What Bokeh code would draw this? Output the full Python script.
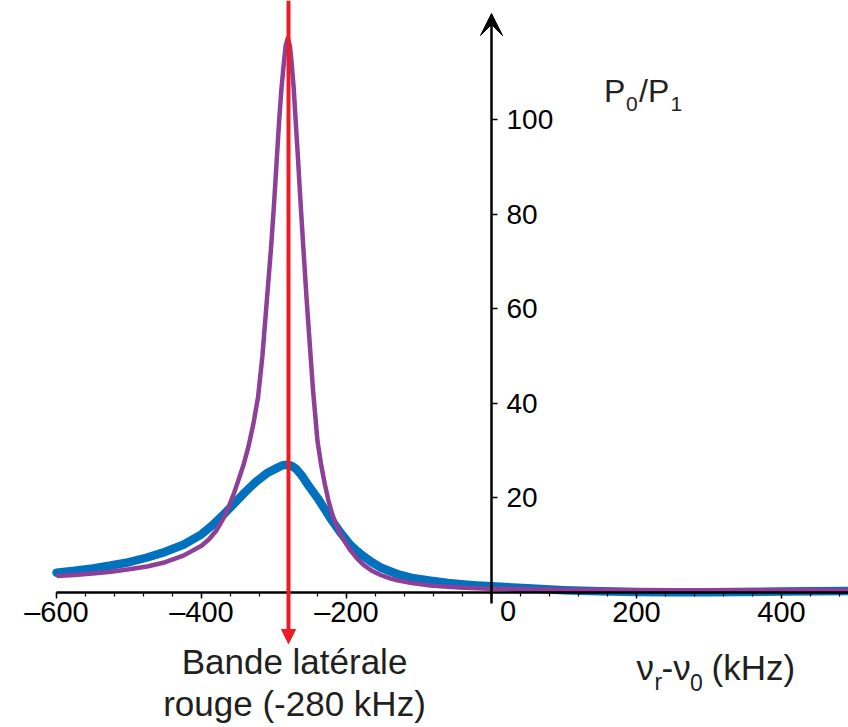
from bokeh.plotting import figure
from bokeh.models import Range1d, LinearAxis, FixedTicker, Arrow, VeeHead, NormalHead, Label
from bokeh.embed import file_html
from bokeh.resources import INLINE

# ---------------- data ----------------
detuning_blue = [-600, -575, -550, -525, -500, -475, -450, -425, -400, -385, -370, -355,
                 -340, -325, -310, -295, -288, -282, -276, -270, -262, -252, -240, -230,
                 -220, -208, -195, -185, -176, -165, -153, -140, -130, -110, -84, -60,
                 -38, -20, 0, 50, 100, 150, 200, 250, 300, 400, 500]
ratio_blue = [4.2, 4.6, 5.1, 5.7, 6.4, 7.4, 8.6, 10.1, 12.3, 14.2, 16.4, 18.8,
              21.2, 23.4, 25.2, 26.4, 26.9, 27.0, 26.8, 26.2, 24.8, 22.5, 20.0, 17.6,
              15.2, 12.6, 10.1, 8.7, 7.6, 6.4, 5.3, 4.5, 3.9, 3.1, 2.5, 2.0,
              1.7, 1.5, 1.3, 0.9, 0.5, 0.25, 0.1, 0.05, 0.05, 0.2, 0.3]

detuning_purple = [-600, -575, -550, -525, -500, -475, -450, -425, -400, -390, -380, -370,
                   -362, -355, -350, -342, -335, -328, -322, -316, -310, -304, -300, -296,
                   -293, -290, -287, -284, -281, -278, -276, -273, -270, -267, -264, -260,
                   -255, -250, -246, -240, -235, -230, -225, -220, -214, -208, -200, -195,
                   -185, -176, -165, -153, -140, -130, -110, -84, -60, -38, -20, 0,
                   50, 100, 150, 200, 300, 400, 500]
ratio_purple = [3.5, 3.7, 4.0, 4.4, 4.9, 5.5, 6.4, 7.8, 9.9, 11.2, 13.0, 15.6,
                18.3, 21.1, 23.3, 27.0, 31.0, 36.0, 41.3, 50.0, 61.5, 73.0, 82.0, 92.0,
                99.5, 106.0, 111.0, 115.5, 117.2, 115.5, 112.5, 107.0, 99.5, 92.0, 84.0, 74.0,
                62.0, 51.0, 42.5, 32.0, 27.0, 23.0, 19.5, 16.7, 14.2, 12.3, 10.2, 9.0,
                7.1, 5.8, 4.6, 3.7, 3.0, 2.6, 2.0, 1.5, 1.2, 1.0, 0.9, 0.8,
                0.7, 0.6, 0.55, 0.5, 0.45, 0.45, 0.45]

red_sideband = -280

x_ticks = [-600, -400, -200, 0, 200, 400]
x_tick_labels = ["\u2013600", "\u2013400", "\u2013200", "0", "200", "400"]
y_ticks = [20, 40, 60, 80, 100]

# ---------------- layout helpers (canvas pixels -> data) ----------------
X0_PX, X_SCALE = 491, 0.725
Y0_PX, Y_SCALE = 592, 4.73
W, H = 848, 727
BASELINE_SHIFT = 0.4   # em; compensates where the renderer puts an alphabetic baseline


def dx(px):
    return (px - X0_PX) / X_SCALE


def dy(py):
    return (Y0_PX - py) / Y_SCALE


FONT = "Liberation Sans"
TXT = "#231f20"
RED = "#ED1C24"

p = figure(width=W, height=H,
           x_range=Range1d(dx(0), dx(W)),
           y_range=Range1d(dy(H), dy(0)),
           x_axis_type=None, y_axis_type=None,
           output_backend="svg", toolbar_location=None,
           min_border=0, outline_line_color=None)
p.grid.visible = False


def add_text(txt, px, baseline_py, size, align="left", color=TXT):
    p.add_layout(Label(x=dx(px), y=dy(baseline_py - BASELINE_SHIFT * size), text=txt,
                       text_align=align, text_baseline="alphabetic", text_font=FONT,
                       text_font_size=f"{size}px", text_color=color))


# curves
p.line(detuning_blue, ratio_blue, line_width=8.5, color="#0071BC",
       line_cap="round", line_join="round")
p.line(detuning_purple, ratio_purple, line_width=4.5, color="#8E3F98",
       line_join="round")

# x axis at y = 0
minor = list(range(-600, 600, 40))
xaxis = LinearAxis(fixed_location=0,
                   ticker=FixedTicker(ticks=x_ticks, minor_ticks=minor),
                   bounds=(-600, 700),
                   major_label_overrides={t: (lab if t != 0 else "")
                                          for t, lab in zip(x_ticks, x_tick_labels)},
                   axis_line_width=2.5, axis_line_color="black",
                   major_tick_in=0, major_tick_out=6, major_tick_line_width=1.5,
                   minor_tick_in=0, minor_tick_out=4, minor_tick_line_width=1.2,
                   major_label_text_font=FONT, major_label_text_font_size="29px",
                   major_label_text_color="black", major_label_standoff=-3)
p.add_layout(xaxis, "below")

# y axis at x = 0, labels on the right
yaxis = LinearAxis(fixed_location=0,
                   ticker=FixedTicker(ticks=y_ticks, minor_ticks=[]),
                   bounds=(-2.3, 118),
                   axis_line_color=None,
                   major_tick_in=0, major_tick_out=6, major_tick_line_width=1.5,
                   minor_tick_in=0, minor_tick_out=0,
                   major_label_text_font=FONT, major_label_text_font_size="28px",
                   major_label_text_color="black", major_label_standoff=9)
p.add_layout(yaxis, "right")

# y axis line with arrow head
p.add_layout(Arrow(x_start=0, y_start=-2.3, x_end=0, y_end=dy(13),
                   line_width=2.5, line_color="black",
                   end=VeeHead(size=22, fill_color="black", line_color="black")))

# red sideband marker with arrow
p.add_layout(Arrow(x_start=red_sideband, y_start=dy(0), x_end=red_sideband, y_end=dy(643),
                   line_width=4, line_color=RED,
                   end=NormalHead(size=14, fill_color=RED, line_color=RED)))

# "0" tick label, offset from the vertical axis
add_text("0", 507.5, 622, 29, align="center", color="black")

# P0/P1 title
for txt, px, py, size in [("P", 603.5, 103, 32), ("0", 625.5, 112, 21),
                          ("/P", 638.5, 103, 32), ("1", 670, 112, 21)]:
    add_text(txt, px, py, size)

# x axis title: nu_r - nu_0 (kHz)
for txt, px, py, size in [("\u03bd", 636, 681, 35), ("r", 654, 691, 23),
                          ("-\u03bd", 661, 681, 35), ("0", 689.5, 691, 23),
                          ("(kHz)", 711, 681, 35)]:
    add_text(txt, px, py, size)

# sideband annotation
add_text("Bande lat\u00e9rale", 294, 675, 35, align="center")
add_text("rouge (-280 kHz)", 294, 717, 35, align="center")

open("out.html", "w").write(file_html(p, INLINE))
